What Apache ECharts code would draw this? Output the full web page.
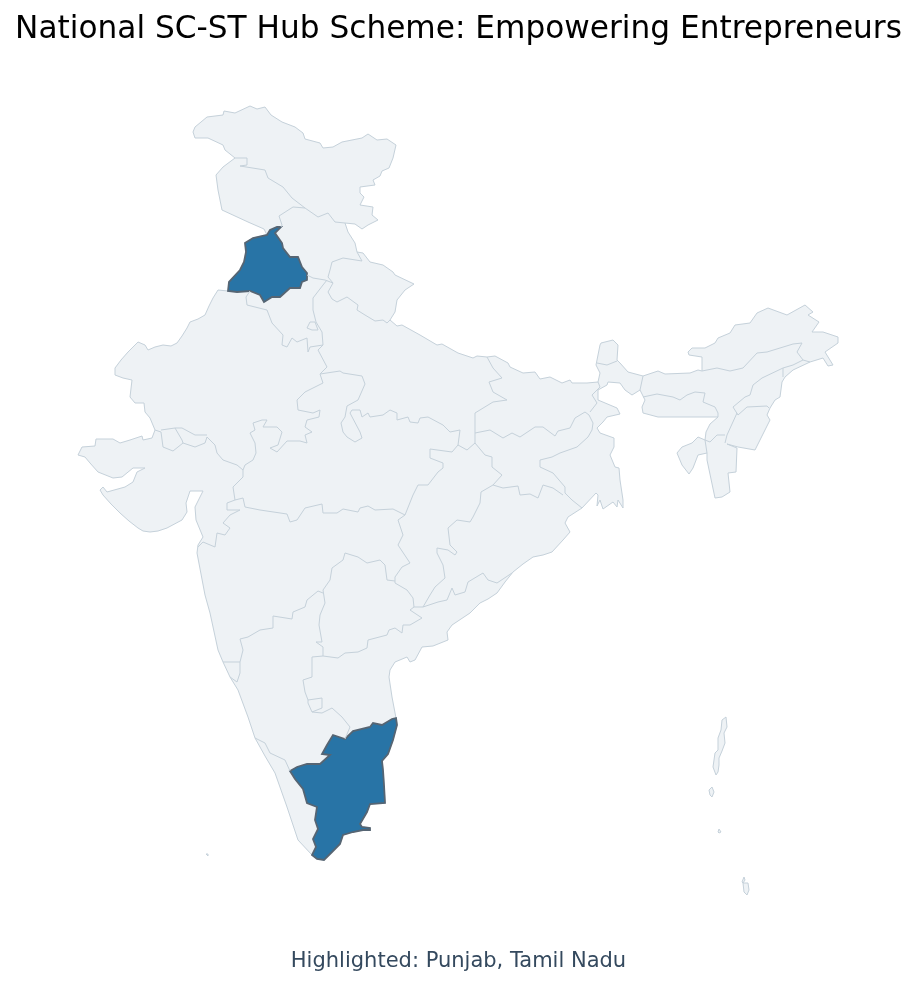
<!DOCTYPE html>
<html>
<head>
<meta charset="utf-8">
<title>National SC-ST Hub Scheme</title>
<style>
html, body { margin: 0; padding: 0; background: #fff; }
#chart { width: 917px; height: 987px; }
</style>
<script src="https://cdn.jsdelivr.net/npm/echarts@6/dist/echarts.min.js"></script>
</head>
<body>
<div id="chart"></div>
<script>
/* Outlines are on a grid of 1/26 degree, counted from 68E 8N. toLonLat turns them into degrees. */
var TITLE = 'National SC-ST Hub Scheme: Empowering Entrepreneurs';
var CAPTION = 'Highlighted: Punjab, Tamil Nadu';
var HIGHLIGHTED = ['Punjab', 'Tamil Nadu'];

/* mainland outline, starting in the north-west and going clockwise */
var northCoast = [[120,730],[122,735],[134,745],[150,747],[151,751],[162,749],[177,756],[184,753],[192,755],[198,747],[209,740],[222,735],[230,729],[232,723],[247,719],[250,714],[260,715],[269,720],[289,724],[295,728],[304,722],[314,723],[323,717],[320,704],[316,694],[309,691],[307,686],[300,682],[302,677],[287,675],[287,669],[291,665],[287,657],[300,655],[299,647],[305,642],[295,637],[289,633],[282,638],[272,639],[275,630],[282,619],[284,610],[290,609],[297,600],[310,597],[320,590],[322,587],[341,578],[332,572],[324,562],[322,550],[317,542],[324,536],[329,537],[347,527],[364,517],[369,518],[385,509],[400,504],[404,506],[414,505],[422,506],[435,499],[437,495],[450,489],[462,490],[467,483],[477,485],[489,479],[497,482],[499,479],[514,479],[525,480],[527,489],[523,497],[527,517],[528,519],[540,522],[545,517],[544,502],[547,499],[555,490],[570,486],[585,491],[592,488],[617,489],[625,492],[629,491]];
var northEast = [[629,505],[616,507],[615,510],[619,514],[632,514],[642,519],[645,524],[657,529],[662,537],[677,539],[684,549],[695,554],[714,547],[732,557],[740,550],[735,547],[746,540],[739,530],[750,530],[765,525],[765,519],[752,510],[760,497],[755,496],[750,504],[737,500],[720,492],[712,485],[709,480],[707,465],[702,462],[697,454],[694,447],[697,442],[682,412],[665,415],[654,418],[664,414],[663,390],[655,389],[657,370],[649,365],[642,364],[634,402],[634,409],[625,407],[620,394],[616,388],[609,397],[604,409],[609,415],[619,419],[625,425],[632,422],[633,430],[637,438],[645,445],[630,445],[617,445],[585,445],[570,449],[569,455],[572,462],[567,472],[559,467],[552,472],[547,479],[535,480],[534,477],[525,472],[525,462],[544,454],[547,448],[534,445],[530,440],[524,434],[527,429],[541,424],[541,415],[537,407],[542,395],[546,394],[547,382],[550,362],[550,354],[545,362],[544,355],[540,360],[530,353],[527,362],[524,356],[525,367],[523,369]];
var eastCoast = [[509,354],[495,345],[492,339],[497,330],[490,322],[479,310],[470,307],[460,305],[450,298],[440,290],[432,280],[424,269],[415,263],[407,259],[397,249],[388,243],[379,237],[374,230],[375,222],[360,216],[349,215],[342,202],[337,200],[334,205],[322,200],[317,192],[316,185],[319,165]];
var tamilCoast = [[323,144],[324,137],[320,122],[315,108],[309,101],[310,92],[311,77],[312,59],[297,58],[294,50],[287,38],[289,35],[297,34],[297,32],[290,32],[280,30],[270,27],[267,18],[259,10],[251,2],[244,3],[239,7]];
var westCoast = [[225,22],[214,55],[202,89],[192,106],[182,124],[175,145],[165,172],[157,185],[150,200],[145,212],[137,249],[132,267],[128,288],[124,309],[125,317],[130,325],[123,342],[122,355],[130,371],[117,371],[113,359],[114,350],[109,342],[94,334],[85,331],[77,330],[70,331],[65,334],[56,341],[47,349],[38,358],[30,367],[27,372],[30,375],[34,370],[52,375],[60,380],[64,390],[72,394],[60,394],[49,385],[40,384],[25,390],[17,399],[12,405],[5,407],[9,415],[22,416],[23,423],[40,423],[47,419],[57,422],[69,426],[70,422],[79,424],[82,432],[77,444],[72,450],[71,459],[62,459],[57,465],[59,482],[50,484],[42,487],[42,494],[48,502],[55,510],[65,520],[72,517],[75,512],[82,515],[90,517],[98,516],[104,519],[109,526],[114,534],[117,540],[125,543],[132,547],[136,556],[140,564],[145,572]];
var punjabWest = [[155,571],[156,580],[167,592],[171,600],[173,610],[172,619],[180,624],[194,627]];
var kashmirWest = [[191,633],[175,640],[149,652],[145,672],[143,687],[150,695],[162,704],[152,712],[150,717],[135,724],[122,724]];

/* highlighted states */
var punjabEast = [[197,632],[204,635],[208,635],[202,629],[209,619],[210,614],[217,605],[225,605],[229,595],[234,589],[234,582],[229,580],[227,574],[217,574],[207,565],[199,565],[191,560],[187,567],[177,571],[164,570]];
var tamilInland = [[243,15],[240,23],[245,33],[242,42],[244,55],[234,59],[230,73],[222,83],[217,91],[224,95],[234,98],[247,98],[257,107],[249,108],[254,117],[260,127],[272,123],[280,131],[297,135],[300,139],[309,137],[319,143]];

/* islands */
var andaman = [[649,142],[653,145],[654,135],[651,129],[652,119],[649,111],[646,104],[646,97],[645,90],[643,87],[640,95],[642,109],[645,112],[645,124],[648,132]];
var littleAndaman = [[636,72],[639,75],[641,70],[639,65],[637,67]];
var carNicobar = [[645,30],[646,33],[648,30],[646,29]];
var littleNicobar = [[669,-20],[671,-15],[672,-18],[670,-21]];
var greatNicobar = [[670,-21],[675,-21],[676,-28],[674,-33],[671,-30]];
var lakshadweep = [[133,8],[135,8],[135,6]];

/* state borders inside the country */
var stateBorders = [
	[[162,704],[174,704],[174,697],[167,696],[192,692],[195,684],[210,675],[219,664],[232,654],[245,645],[255,649],[262,640],[272,639]],
	[[232,654],[220,655],[206,646],[209,637],[208,635]],
	[[234,587],[240,584],[252,582],[260,579]],
	[[284,610],[289,601],[270,604],[259,600],[257,592],[255,585],[260,579]],
	[[260,579],[255,570],[259,563],[264,560],[274,565],[285,557],[284,552],[292,547],[302,541],[310,542],[314,539],[317,542]],
	[[254,582],[250,577],[240,564],[240,552],[243,540],[249,530],[250,517]],
	[[177,571],[173,565],[174,557],[194,552],[199,539],[210,527],[209,517],[214,515],[219,524],[224,520],[234,524],[235,510],[237,515],[250,517]],
	[[234,534],[237,540],[242,540],[245,532],[239,532],[234,534]],
	[[250,517],[245,512],[254,495],[247,488]],
	[[247,488],[267,491],[270,489],[289,486],[292,478],[285,462],[274,456],[272,445],[268,439],[270,430],[274,425],[282,420],[289,424],[287,430],[277,449],[279,452],[287,452],[289,445],[295,449],[297,445],[310,447],[317,452],[324,449],[324,442],[335,445],[337,440],[345,439],[347,444],[355,445],[370,437],[377,430],[387,432],[385,417],[394,412],[402,419],[402,429]],
	[[414,505],[420,494],[429,484],[416,480],[420,470],[434,462],[420,460],[402,449],[402,429]],
	[[247,488],[250,479],[232,470],[224,462],[225,452],[240,449],[247,452],[246,445],[234,442],[232,435],[239,430],[232,427],[234,419],[227,421],[214,421],[204,410],[197,414],[205,417],[209,430],[204,435],[190,435],[194,442],[189,442],[180,439],[182,432],[177,429],[182,419],[183,409],[180,402],[172,397],[170,392]],
	[[170,392],[164,397],[150,402],[144,409],[142,417],[134,425],[132,419],[122,415],[110,419],[100,411],[90,415],[88,430],[82,432]],
	[[88,432],[102,434],[109,434],[122,427],[134,427]],
	[[102,434],[109,422],[110,419]],
	[[170,392],[170,385],[160,375],[162,362],[154,359],[154,352],[167,352],[157,347],[150,339],[157,334],[152,327],[144,329],[142,315],[130,320],[125,315]],
	[[162,362],[170,364],[172,355],[187,352],[214,348],[217,340],[224,342],[232,354],[249,358],[250,349],[264,349],[270,353],[285,350],[287,354],[295,356],[302,352],[320,353],[332,347]],
	[[332,347],[340,367],[345,377],[355,377],[365,390],[370,394],[370,399],[357,404],[357,413],[379,410],[385,417]],
	[[402,419],[412,407],[419,405],[419,395],[429,387],[420,377],[408,370],[407,359],[400,345],[397,340],[384,342],[375,334],[377,317],[384,310],[382,307],[375,312],[364,314],[364,309],[370,297],[372,284],[362,275],[357,267],[350,255]],
	[[350,255],[365,260],[374,262],[379,274],[382,267],[392,270],[395,280],[410,289],[415,282],[424,279],[439,289]],
	[[332,347],[325,342],[330,327],[325,317],[337,299],[329,295],[322,285],[322,279],[334,272],[340,264],[341,255],[350,255]],
	[[341,255],[337,252],[349,244],[337,237],[330,237],[329,229],[322,234],[316,232],[314,227],[295,222],[294,214],[285,210],[272,209],[265,204],[250,206]],
	[[322,281],[314,282],[312,297],[307,302],[294,299],[285,305],[272,309],[270,302],[259,294],[257,282],[250,272],[252,259],[247,247],[246,237],[249,220],[243,220],[250,215],[250,206]],
	[[250,269],[245,271],[234,262],[232,255],[220,250],[219,243],[200,246],[200,234],[187,232],[175,225],[167,223],[170,212],[167,200],[159,200],[150,200]],
	[[167,200],[167,189],[164,180],[157,185]],
	[[250,206],[239,205],[239,185],[230,182],[232,170],[235,162],[235,159],[239,150],[249,154],[249,164],[235,162]],
	[[239,150],[249,149],[259,154],[269,145],[277,135],[272,123]],
	[[182,124],[192,119],[197,109],[212,102],[217,91]],
	[[402,429],[417,432],[430,424],[439,429],[447,425],[462,435],[470,435],[482,426],[485,431],[497,434],[502,444],[512,450],[516,447]],
	[[525,480],[527,475],[519,467],[524,459],[517,450]],
	[[516,447],[520,439],[519,432],[515,425],[504,415],[487,409],[479,405],[467,402],[467,395],[480,389],[492,375],[492,369],[499,362],[509,354]],
	[[420,377],[430,374],[445,376],[447,367],[457,368],[465,364],[470,377],[480,374],[490,367]],
	[[524,499],[534,497],[544,501]],
	[[570,486],[567,472]],
	[[629,491],[644,494],[657,491],[670,494],[684,509],[694,510],[720,518],[729,519],[724,510],[730,502],[737,500]],
	[[730,502],[720,497],[710,494],[710,485]],
	[[710,494],[689,484],[680,477],[677,467],[672,465],[660,455],[665,447],[674,455],[694,456],[696,454]],
	[[664,449],[654,427],[652,419]],
	[[652,427],[644,427],[637,420],[632,422],[634,409]],
	[[570,465],[584,468],[600,465],[607,462],[614,467],[622,470],[632,469],[630,460],[642,455],[645,449],[645,445]]
];

var toLonLat = function(point){
	return [68 + point[0] / 26, 8 + point[1] / 26];
};

var closeRing = function(points){
	var ring = points.map(toLonLat);
	ring.push(ring[0]);
	return ring;
};

var mainland = northCoast.concat(northEast, eastCoast, tamilCoast, westCoast, punjabWest, kashmirWest);
var punjab = punjabWest.concat(punjabEast);
var tamilNadu = tamilCoast.concat(tamilInland);

var feature = function(name, rings){
	return {
		type: 'Feature',
		properties: { name: name },
		geometry: {
			type: 'MultiPolygon',
			coordinates: rings.map(function(r){ return [closeRing(r)]; })
		}
	};
};

echarts.registerMap('india', {
	type: 'FeatureCollection',
	features: [
		feature('India', [mainland, andaman, littleAndaman, carNicobar, littleNicobar, greatNicobar, lakshadweep]),
		feature('Punjab', [punjab]),
		feature('Tamil Nadu', [tamilNadu])
	]
});

var option = {
	backgroundColor: '#ffffff',
	animation: false,
	title: [
		{
			text: TITLE,
			left: 'center',
			top: 9,
			textStyle: { fontFamily: 'DejaVu Sans', fontSize: 31.2, fontWeight: 'normal', color: '#000000' }
		},
		{
			text: CAPTION,
			left: 'center',
			top: 946,
			textStyle: { fontFamily: 'DejaVu Sans', fontSize: 21, fontWeight: 'normal', color: '#34495e' }
		}
	],
	geo: {
		map: 'india',
		aspectScale: 1,
		roam: false,
		silent: true,
		left: 78,
		top: 106,
		width: 760,
		height: 789,
		label: { show: false },
		itemStyle: { areaColor: '#eef2f5', borderColor: '#c5d1da', borderWidth: 1 },
		regions: HIGHLIGHTED.map(function(name){
			return {
				name: name,
				itemStyle: { areaColor: '#2874a6', borderColor: '#566573', borderWidth: 1.8 }
			};
		})
	},
	series: [
		{
			type: 'lines',
			coordinateSystem: 'geo',
			polyline: true,
			silent: true,
			lineStyle: { color: '#c5d1da', width: 1, opacity: 1 },
			data: stateBorders.map(function(b){
				return { coords: b.map(toLonLat) };
			})
		}
	]
};

var chart = echarts.init(document.getElementById('chart'));
chart.setOption(option);
</script>
</body>
</html>
